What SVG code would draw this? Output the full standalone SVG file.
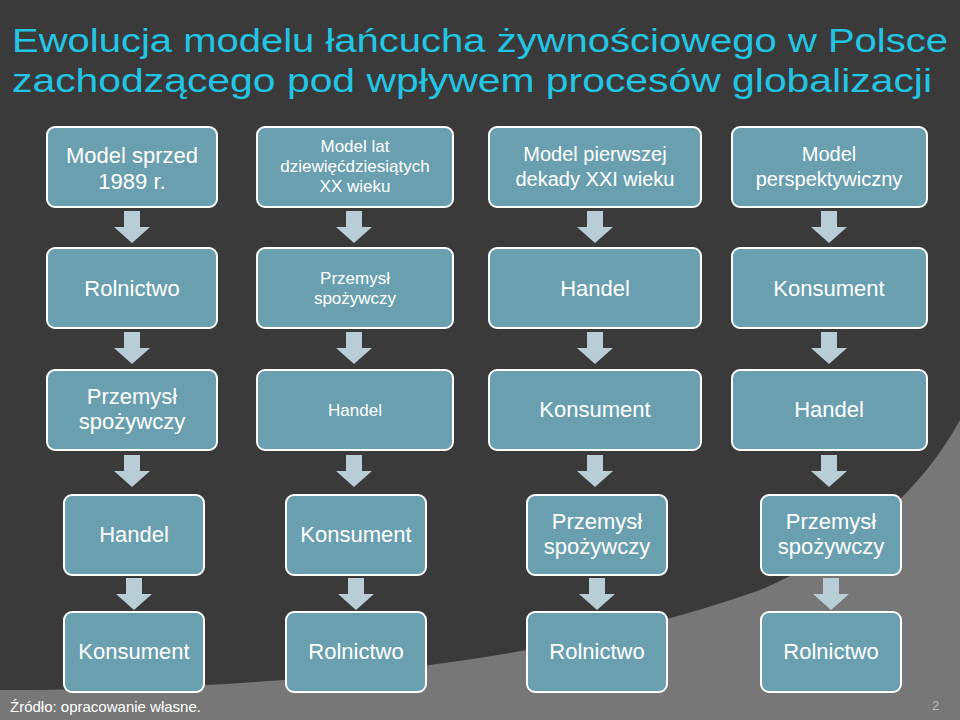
<svg xmlns="http://www.w3.org/2000/svg" width="960" height="720" viewBox="0 0 960 720">
<style>
.n rect{fill:#6a9fb0;stroke:#fff;stroke-width:2}
.n text{fill:#fff;font-family:"Liberation Sans",Arial,sans-serif;text-anchor:middle}
.a{fill:#b9cdd6}
.t{font-family:"Liberation Sans",Arial,sans-serif;font-size:34px;fill:#22c6e4}
</style>
<defs><path id="ar" class="a" d="M-8,0 H8 V16 H18 L0,32 L-18,16 H-8 Z"/></defs>
<rect width="960" height="720" fill="#3a3a3a"/>
<path d="M0,690 Q480,690 760,590 Q900,530 960,420 L960,720 L0,720 Z" fill="#777"/>
<text class="t" x="12" y="52" textLength="936" lengthAdjust="spacingAndGlyphs">Ewolucja modelu łańcucha żywnościowego w Polsce</text>
<text class="t" x="12" y="92" textLength="920" lengthAdjust="spacingAndGlyphs">zachodzącego pod wpływem procesów globalizacji</text>
<g id="connectors">
<use href="#ar" x="132" y="211"/><use href="#ar" x="354" y="211"/><use href="#ar" x="595" y="211"/><use href="#ar" x="829" y="211"/>
<use href="#ar" x="132" y="332"/><use href="#ar" x="354" y="332"/><use href="#ar" x="595" y="332"/><use href="#ar" x="829" y="332"/>
<use href="#ar" x="132" y="455"/><use href="#ar" x="354" y="455"/><use href="#ar" x="595" y="455"/><use href="#ar" x="829" y="455"/>
<use href="#ar" x="134" y="578"/><use href="#ar" x="356" y="578"/><use href="#ar" x="597" y="578"/><use href="#ar" x="831" y="578"/>
</g>
<g id="r1c1" class="n"><rect x="47" y="127" width="170" height="80" rx="8"/><text x="132" y="163" font-size="22">Model sprzed</text><text x="132" y="189" font-size="22">1989 r.</text></g>
<g id="r1c2" class="n"><rect x="257" y="127" width="196" height="80" rx="8"/><text x="355" y="152" font-size="17">Model lat</text><text x="355" y="172" font-size="17">dziewięćdziesiątych</text><text x="355" y="192" font-size="17">XX wieku</text></g>
<g id="r1c3" class="n"><rect x="489" y="127" width="212" height="80" rx="8"/><text x="595" y="161" font-size="20">Model pierwszej</text><text x="595" y="186" font-size="20">dekady XXI wieku</text></g>
<g id="r1c4" class="n"><rect x="732" y="127" width="195" height="80" rx="8"/><text x="829" y="161" font-size="20">Model</text><text x="829" y="186" font-size="20">perspektywiczny</text></g>
<g id="r2c1" class="n"><rect x="47" y="248" width="170" height="80" rx="8"/><text x="132" y="296" font-size="22">Rolnictwo</text></g>
<g id="r2c2" class="n"><rect x="257" y="248" width="196" height="80" rx="8"/><text x="355" y="284" font-size="17">Przemysł</text><text x="355" y="304" font-size="17">spożywczy</text></g>
<g id="r2c3" class="n"><rect x="489" y="248" width="212" height="80" rx="8"/><text x="595" y="296" font-size="22">Handel</text></g>
<g id="r2c4" class="n"><rect x="732" y="248" width="195" height="80" rx="8"/><text x="829" y="296" font-size="22">Konsument</text></g>
<g id="r3c1" class="n"><rect x="47" y="370" width="170" height="80" rx="8"/><text x="132" y="404" font-size="22">Przemysł</text><text x="132" y="429" font-size="22">spożywczy</text></g>
<g id="r3c2" class="n"><rect x="257" y="370" width="196" height="80" rx="8"/><text x="355" y="416" font-size="17">Handel</text></g>
<g id="r3c3" class="n"><rect x="489" y="370" width="212" height="80" rx="8"/><text x="595" y="417" font-size="22">Konsument</text></g>
<g id="r3c4" class="n"><rect x="732" y="370" width="195" height="80" rx="8"/><text x="829" y="417" font-size="22">Handel</text></g>
<g id="r4c1" class="n"><rect x="64" y="495" width="140" height="80" rx="8"/><text x="134" y="542" font-size="22">Handel</text></g>
<g id="r4c2" class="n"><rect x="286" y="495" width="140" height="80" rx="8"/><text x="356" y="542" font-size="22">Konsument</text></g>
<g id="r4c3" class="n"><rect x="527" y="495" width="140" height="80" rx="8"/><text x="597" y="529" font-size="22">Przemysł</text><text x="597" y="554" font-size="22">spożywczy</text></g>
<g id="r4c4" class="n"><rect x="761" y="495" width="140" height="80" rx="8"/><text x="831" y="529" font-size="22">Przemysł</text><text x="831" y="554" font-size="22">spożywczy</text></g>
<g id="r5c1" class="n"><rect x="64" y="612" width="140" height="80" rx="8"/><text x="134" y="659" font-size="22">Konsument</text></g>
<g id="r5c2" class="n"><rect x="286" y="612" width="140" height="80" rx="8"/><text x="356" y="659" font-size="22">Rolnictwo</text></g>
<g id="r5c3" class="n"><rect x="527" y="612" width="140" height="80" rx="8"/><text x="597" y="659" font-size="22">Rolnictwo</text></g>
<g id="r5c4" class="n"><rect x="761" y="612" width="140" height="80" rx="8"/><text x="831" y="659" font-size="22">Rolnictwo</text></g>
<text x="10" y="712" font-family="Liberation Sans,Arial,sans-serif" font-size="15" fill="#fff">Źródło: opracowanie własne.</text>
<text x="932" y="710" font-family="Liberation Sans,Arial,sans-serif" font-size="13" fill="#bbb">2</text>
</svg>
